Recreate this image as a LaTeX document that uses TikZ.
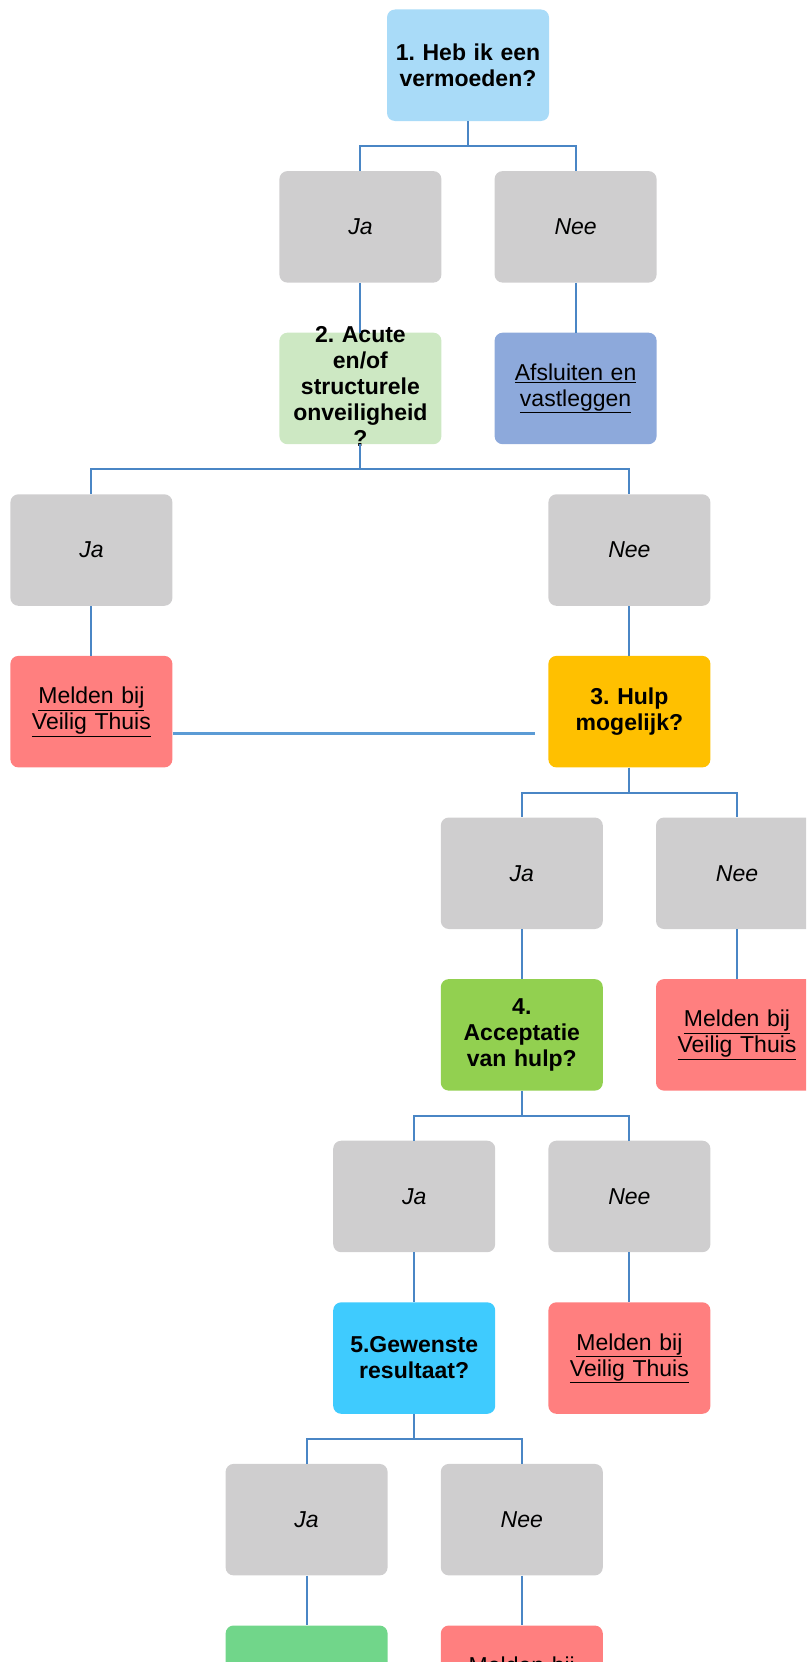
\documentclass[tikz,border=0pt]{standalone}
\usepackage{fontspec}
\setmainfont{Liberation Sans}
\frenchspacing
\definecolor{cQone}{HTML}{A9DBF8}
\definecolor{cGray}{HTML}{CFCECF}
\definecolor{cQtwo}{HTML}{CDE8C3}
\definecolor{cAfs}{HTML}{8DA9DB}
\definecolor{cRed}{HTML}{FF7F7F}
\definecolor{cHulp}{HTML}{FFC000}
\definecolor{cAcc}{HTML}{92D050}
\definecolor{cGew}{HTML}{3FCBFE}
\definecolor{cEnd}{HTML}{71D68A}
\definecolor{cLine}{HTML}{4A86C5}
\definecolor{cLineB}{HTML}{5B9BD5}
\begin{document}
\begin{tikzpicture}[x=1pt,y=-1pt,
  box/.style={rounded corners=8pt, minimum width=162pt, minimum height=111.5pt,
    inner sep=2pt, align=center, text width=158pt,
    font=\fontsize{23}{26}\selectfont\frenchspacing},
  ans/.style={box, fill=cGray, font=\fontsize{23}{26}\selectfont\itshape},
  q/.style={box, font=\fontsize{23}{26}\selectfont\bfseries\frenchspacing},
  lnk/.style={box, fill=cRed},
  conn/.style={draw=cLine, line width=2pt},
]
\path[use as bounding box] (0,0) rectangle (806,1662);
\clip (0,0) rectangle (806,1662);

% row 0
\node[q, fill=cQone] (q1) at (468,65.25) {1. Heb ik een\\vermoeden?};
% row 1
\node[ans] (a1ja) at (360.4,226.85) {Ja};
\node[ans] (a1nee) at (575.6,226.85) {Nee};
% row 2
\node[box, fill=cQtwo] (q2) at (360.4,388.45) {};
\node[q, minimum height=0pt, inner sep=0pt] (q2t) at (360.4,386) {2. Acute\\en/of\\structurele\\onveiligheid\\?};
\node[box, fill=cAfs] (afs) at (575.6,388.45) {\underline{Afsluiten en}\\\underline{vastleggen}};
% row 3
\node[ans] (a2ja) at (91.4,550.05) {Ja};
\node[ans] (a2nee) at (629.4,550.05) {Nee};
% row 4
\node[lnk] (m1) at (91.4,711.65) {\underline{Melden bij}\\\underline{Veilig Thuis}};
\node[q, fill=cHulp] (q3) at (629.4,711.65) {3. Hulp\\mogelijk?};
% row 5
\node[ans] (a3ja) at (521.8,873.25) {Ja};
\node[ans] (a3nee) at (737,873.25) {Nee};
% row 6
\node[q, fill=cAcc] (q4) at (521.8,1034.85) {4.\\Acceptatie\\van hulp?};
\node[lnk] (m2) at (737,1034.85) {\underline{Melden bij}\\\underline{Veilig Thuis}};
% row 7
\node[ans] (a4ja) at (414.2,1196.45) {Ja};
\node[ans] (a4nee) at (629.4,1196.45) {Nee};
% row 8
\node[q, fill=cGew] (q5) at (414.2,1358.05) {5.Gewenste\\resultaat?};
\node[lnk] (m3) at (629.4,1358.05) {\underline{Melden bij}\\\underline{Veilig Thuis}};
% row 9
\node[ans] (a5ja) at (306.6,1519.65) {Ja};
\node[ans] (a5nee) at (521.8,1519.65) {Nee};
% row 10
\node[box, fill=cEnd] (eind) at (306.6,1681.25) {};
\node[lnk] (m4) at (521.8,1681.25) {\underline{Melden bij}\\\underline{Veilig Thuis}};

% connectors
\draw[conn] (q1.south) -- ++(0,25) -| (a1ja.north);
\draw[conn] (q1.south) -- ++(0,25) -| (a1nee.north);
\draw[conn] (a1ja.south) -- (q2.north);
\draw[conn] (a1nee.south) -- (afs.north);
\draw[conn] (q2.south) -- ++(0,25) -| (a2ja.north);
\draw[conn] (q2.south) -- ++(0,25) -| (a2nee.north);
\draw[conn] (a2ja.south) -- (m1.north);
\draw[conn] (a2nee.south) -- (q3.north);
\draw[draw=cLineB, line width=3pt] ([yshift=-21.6pt]m1.east) -- ([yshift=-21.6pt,xshift=-13pt]q3.west);
\draw[conn] (q3.south) -- ++(0,25) -| (a3ja.north);
\draw[conn] (q3.south) -- ++(0,25) -| (a3nee.north);
\draw[conn] (a3ja.south) -- (q4.north);
\draw[conn] (a3nee.south) -- (m2.north);
\draw[conn] (q4.south) -- ++(0,25) -| (a4ja.north);
\draw[conn] (q4.south) -- ++(0,25) -| (a4nee.north);
\draw[conn] (a4ja.south) -- (q5.north);
\draw[conn] (a4nee.south) -- (m3.north);
\draw[conn] (q5.south) -- ++(0,25) -| (a5ja.north);
\draw[conn] (q5.south) -- ++(0,25) -| (a5nee.north);
\draw[conn] (a5ja.south) -- (eind.north);
\draw[conn] (a5nee.south) -- (m4.north);
\end{tikzpicture}
\end{document}
